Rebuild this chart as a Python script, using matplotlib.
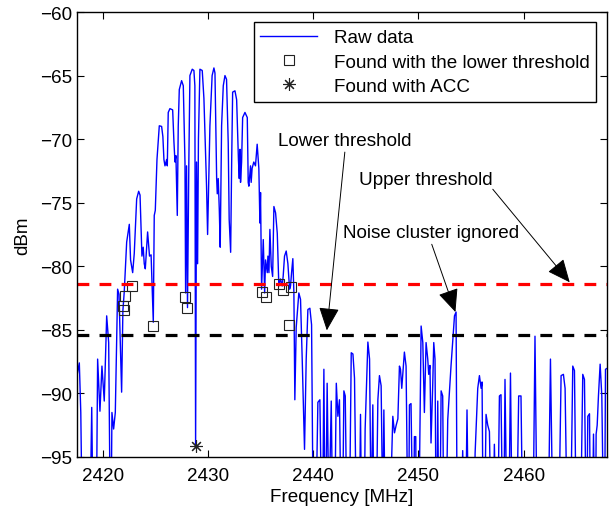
import matplotlib
matplotlib.use("Agg")
import matplotlib.pyplot as plt

plt.rcParams['font.family'] = ['Liberation Sans', 'DejaVu Sans']
plt.rcParams['font.size'] = 13.6

#------------------------------- data -----------------------------------
freq = [2417.56, 2417.78, 2417.92, 2418.05, 2418.8, 2418.96, 2419.08, 2419.4, 2419.52, 2419.74,
        2419.93, 2420.15, 2420.38, 2420.57, 2420.72, 2420.8, 2420.88, 2421.04, 2421.2, 2421.42,
        2421.55, 2421.8, 2421.92, 2422.05, 2422.28, 2422.53, 2422.65, 2422.85, 2423.0, 2423.23,
        2423.42, 2423.55, 2423.73, 2423.85, 2423.95, 2424.05, 2424.27, 2424.45, 2424.6, 2424.81,
        2424.9, 2425.0, 2425.16, 2425.38, 2425.6, 2425.72, 2425.82, 2425.92, 2426.08, 2426.14,
        2426.23, 2426.39, 2426.65, 2426.77, 2426.87, 2426.96, 2427.09, 2427.18, 2427.28, 2427.5,
        2427.66, 2427.82, 2427.88, 2427.97, 2428.06, 2428.19, 2428.29, 2428.51, 2428.67, 2428.76,
        2428.83, 2428.92, 2429.02, 2429.1, 2429.24, 2429.46, 2429.62, 2429.87, 2429.97, 2430.19,
        2430.4, 2430.57, 2430.67, 2430.83, 2430.89, 2430.98, 2431.08, 2431.17, 2431.3, 2431.46,
        2431.62, 2431.77, 2431.93, 2432.02, 2432.16, 2432.26, 2432.35, 2432.57, 2432.73, 2432.9,
        2432.98, 2433.05, 2433.1, 2433.2, 2433.3, 2433.52, 2433.74, 2433.83, 2433.89, 2434.05,
        2434.11, 2434.2, 2434.36, 2434.52, 2434.68, 2434.84, 2434.94, 2435.0, 2435.1, 2435.26,
        2435.39, 2435.48, 2435.64, 2435.7, 2435.8, 2435.89, 2436.02, 2436.15, 2436.27, 2436.43,
        2436.59, 2436.74, 2436.9, 2437.06, 2437.15, 2437.28, 2437.44, 2437.6, 2437.76, 2437.85,
        2437.95, 2438.07, 2438.17, 2438.26, 2438.39, 2438.64, 2438.8, 2438.96, 2439.18, 2439.34,
        2439.5, 2439.69, 2439.85, 2440.0, 2440.26, 2440.45, 2440.64, 2440.8, 2440.9, 2441.02,
        2441.12, 2441.2, 2441.33, 2441.5, 2441.72, 2441.85, 2442.05, 2442.2, 2442.35, 2442.5,
        2442.65, 2442.8, 2442.92, 2443.05, 2443.2, 2443.45, 2443.62, 2443.78, 2443.93, 2444.1,
        2444.4, 2444.5, 2444.6, 2444.85, 2444.94, 2445.2, 2445.36, 2445.51, 2445.67, 2445.77,
        2446.0, 2446.15, 2446.3, 2446.46, 2446.62, 2446.72, 2446.84, 2447.3, 2447.57, 2447.73,
        2447.89, 2448.05, 2448.2, 2448.3, 2448.42, 2448.67, 2448.83, 2448.99, 2449.08, 2449.15,
        2449.3, 2449.46, 2449.55, 2449.62, 2449.75, 2449.8, 2450.05, 2450.26, 2450.42, 2450.57,
        2450.73, 2450.89, 2450.98, 2451.1, 2451.2, 2451.36, 2451.46, 2451.58, 2451.68, 2451.76,
        2451.84, 2451.93, 2452.05, 2452.16, 2452.31, 2452.41, 2452.63, 2452.79, 2453.1, 2453.43,
        2453.58, 2453.68, 2454.06, 2454.21, 2454.37, 2454.5, 2454.62, 2454.75, 2455.3, 2455.39,
        2455.64, 2455.8, 2455.96, 2456.05, 2456.15, 2456.3, 2456.43, 2456.59, 2456.75, 2456.9,
        2457.12, 2457.22, 2457.38, 2457.55, 2457.7, 2457.85, 2458.0, 2458.12, 2458.23, 2458.4,
        2458.6, 2458.75, 2458.9, 2459.35, 2459.53, 2459.75, 2459.9, 2460.9, 2461.08, 2461.27,
        2462.35, 2462.55, 2462.77, 2463.35, 2463.56, 2463.78, 2463.94, 2464.13, 2464.47, 2464.67,
        2464.83, 2464.99, 2465.42, 2465.62, 2465.78, 2465.94, 2466.0, 2466.1, 2466.26, 2466.35,
        2466.54, 2466.64, 2466.75, 2466.84, 2466.89, 2466.99, 2467.11, 2467.27, 2467.43, 2467.59,
        2467.7, 2467.78, 2468.0]

power = [-88.6, -87.6, -91.5, -100, -100, -91.1, -100, -100, -87.3, -91.4,
         -87.85, -90.6, -83.9, -86.0, -100, -100, -91.5, -92.8, -91.5, -81.8,
         -82.2, -89.9, -83.5, -82.0, -78.1, -76.7, -79.5, -80.5, -79.0, -74.7,
         -74.1, -74.4, -79.2, -78.5, -79.8, -80.2, -77.3, -79.2, -79.1, -84.4,
         -76.0, -75.6, -71.6, -68.95, -69.0, -69.8, -71.6, -72.1, -71.6, -72.1,
         -67.9, -67.6, -67.7, -70.2, -71.8, -71.3, -76.0, -69.0, -66.1, -65.4,
         -65.8, -71.8, -82.1, -72.1, -83.25, -71.6, -65.0, -64.5, -64.6, -65.8,
         -94.2, -71.8, -79.8, -70.0, -64.5, -64.6, -66.8, -73.7, -77.5, -68.95,
         -65.0, -64.4, -64.8, -73.1, -74.3, -73.1, -75.5, -78.5, -68.95, -65.8,
         -65.0, -65.3, -70.3, -76.3, -78.9, -71.6, -66.3, -66.2, -66.9, -71.6,
         -73.1, -70.8, -73.4, -71.8, -68.3, -67.9, -68.3, -73.4, -73.7, -72.1,
         -73.4, -72.3, -71.8, -72.1, -70.4, -72.3, -76.6, -74.2, -81.8, -77.9,
         -82.1, -79.5, -80.5, -79.2, -80.5, -77.1, -80.0, -80.8, -75.3, -75.8,
         -77.4, -81.55, -81.0, -81.55, -80.8, -79.2, -78.8, -79.8, -81.8, -81.55,
         -80.5, -79.4, -82.1, -90.5, -84.8, -82.1, -82.6, -87.3, -94.4, -87.3,
         -83.4, -83.3, -84.6, -100, -100, -90.7, -90.5, -100, -100, -88.1,
         -100, -100, -89.2, -100, -90.6, -100, -100, -89.2, -91.8, -90.5,
         -100, -100, -89.8, -90.2, -100, -100, -86.8, -86.9, -88.8, -100,
         -100, -91.65, -100, -100, -92.8, -85.96, -87.3, -100, -90.9, -100,
         -100, -90.5, -88.6, -89.4, -100, -91.3, -100, -100, -91.8, -93.1,
         -92.5, -92.0, -87.85, -88.1, -89.6, -86.75, -87.85, -100, -100, -90.9,
         -90.8, -100, -100, -93.4, -93.4, -100, -100, -84.7, -86.0, -91.5,
         -86.0, -87.3, -88.5, -87.8, -93.9, -89.4, -86.0, -87.3, -100, -100,
         -90.6, -100, -100, -89.8, -90.2, -100, -100, -92.05, -87.85, -83.9,
         -83.6, -100, -100, -94.5, -100, -100, -91.3, -100, -100, -94.7,
         -89.6, -88.6, -89.6, -89.1, -100, -100, -91.65, -92.5, -93.0, -100,
         -100, -94.0, -100, -100, -90.2, -90.1, -100, -100, -88.9, -100,
         -100, -88.4, -100, -100, -90.2, -90.2, -100, -100, -85.5, -100,
         -100, -87.3, -100, -100, -88.6, -88.5, -89.6, -100, -100, -87.85,
         -88.2, -100, -100, -88.5, -88.9, -100, -100, -91.8, -91.6, -100,
         -100, -93.2, -100, -100, -93.2, -92.5, -90.2, -87.7, -90.2, -100,
         -100, -88.1, -88.0]

# peaks found with the lower threshold
sq_freq = [2421.96, 2422.0, 2422.13, 2422.8, 2424.76, 2427.83, 2428.02,
           2435.17, 2435.52, 2436.72, 2437.17, 2437.9, 2437.74]
sq_power = [-83.13, -83.46, -82.34, -81.55, -84.7, -82.39, -83.3,
            -82.0, -82.39, -81.42, -81.87, -81.63, -84.65]

# peak found with ACC
acc_freq = [2428.83]
acc_power = [-94.15]

upper_thr = -81.4
lower_thr = -85.4

#------------------------------- plot -----------------------------------
fig = plt.figure(figsize=(6.16, 5.10), dpi=100)
ax = fig.add_axes([0.125, 0.102, 0.86, 0.8725])

ax.plot(freq, power, color='#0000ff', lw=1.0, label='Raw data')
ax.plot(sq_freq, sq_power, ls='none', marker='s', ms=6.5, mfc='none',
        mec='#222222', mew=0.8, label='Found with the lower threshold')
ax.plot(acc_freq, acc_power, ls='none', marker=(8, 2, 0), ms=9,
        mec='#222222', mew=0.8, label='Found with ACC')

ax.axhline(upper_thr, color='#ff0000', lw=2.3, ls=(0, (3.7, 3.2)))
ax.axhline(lower_thr, color='k', lw=2.3, ls=(0, (3.7, 3.2)))

ax.set_xlim(2417.56, 2467.9)
ax.set_ylim(-95, -60)
ax.set_xticks([2420, 2430, 2440, 2450, 2460])
ax.set_yticks([-95, -90, -85, -80, -75, -70, -65, -60])
ax.tick_params(direction='in', top=True, right=True, length=5, width=0.8)
ax.tick_params(axis='x', pad=7)
for s in ax.spines.values():
    s.set_linewidth(1.0)

ax.set_xlabel('Frequency [MHz]', labelpad=3)
ax.set_ylabel('dBm', labelpad=6)

leg = ax.legend(loc='upper right', fancybox=False, framealpha=1, edgecolor='k',
                borderaxespad=0.55, handlelength=3.0, labelspacing=0.38,
                borderpad=0.35, handletextpad=0.9)
leg.get_frame().set_linewidth(1.0)

# annotations
arrow = dict(arrowstyle='-|>,head_length=0.9,head_width=0.4', color='k',
             lw=0.7, shrinkA=0, shrinkB=0, mutation_scale=16)
ax.text(2443.01, -70.08, 'Lower threshold', ha='center', va='center')
ax.annotate('', xy=(2441.3, -85.04), xytext=(2443.01, -71.02), arrowprops=arrow)
ax.text(2450.75, -73.15, 'Upper threshold', ha='center', va='center')
ax.annotate('', xy=(2464.38, -81.26), xytext=(2457.07, -73.94), arrowprops=arrow)
ax.text(2451.23, -77.32, 'Noise cluster ignored', ha='center', va='center')
ax.annotate('', xy=(2453.52, -83.6), xytext=(2451.27, -78.27), arrowprops=arrow)

fig.savefig('out.png', dpi=100)
